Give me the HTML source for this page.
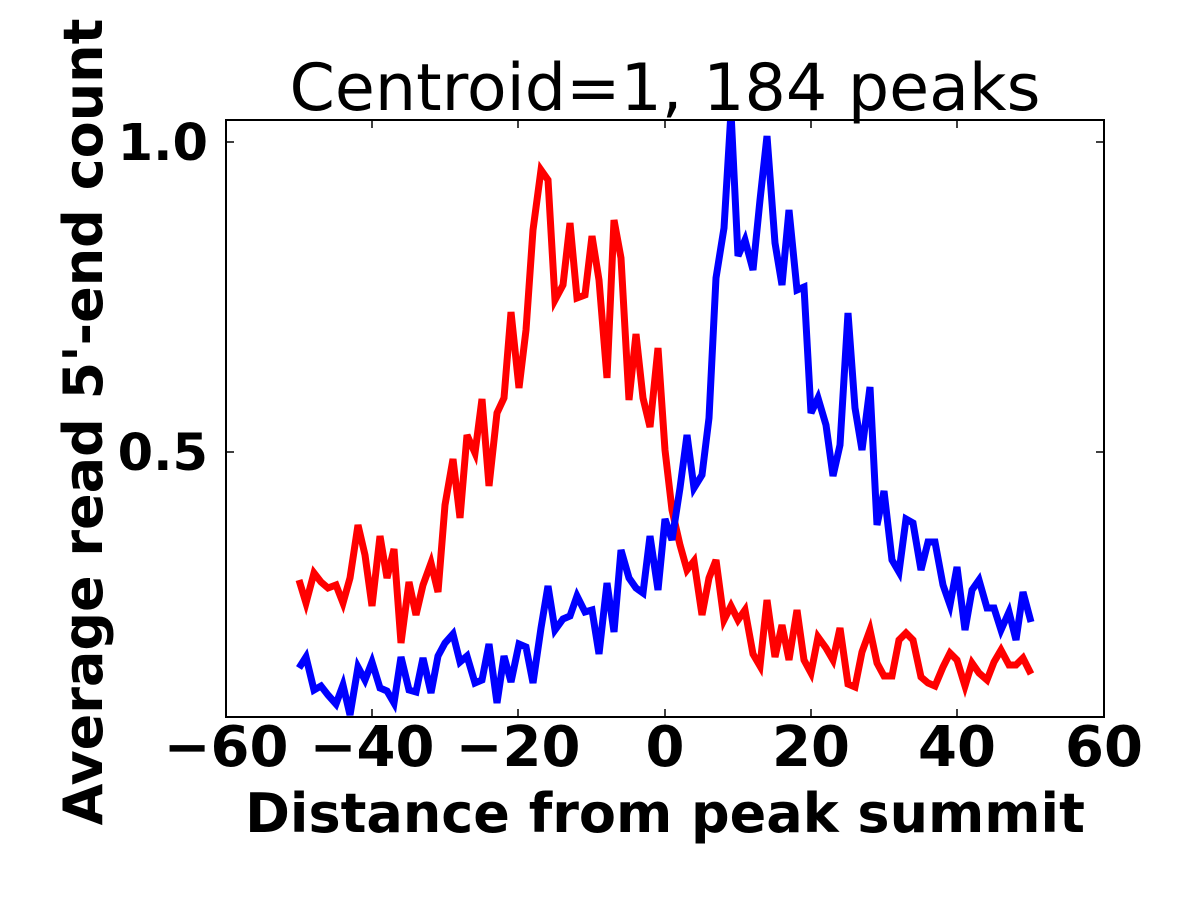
<!DOCTYPE html>
<html><head><meta charset="utf-8"><style>body{margin:0;background:#fff}svg{display:block}</style></head>
<body>
<svg width="1200" height="900" xmlns="http://www.w3.org/2000/svg">
<defs><clipPath id="c"><rect x="226" y="120" width="878" height="597"/></clipPath></defs>
<g clip-path="url(#c)" fill="none" stroke-width="7" stroke-linejoin="miter">
<polyline stroke="#ff0000" points="299,580 306,603 314,573 321,582 328,588 336,585 343,603 350,578 358,525 365,555 372,606 380,536 387,578 394,549 401,643 409,582 416,615 423,585 431,563 438,592 445,505 453,459 460,518 467,435 475,453 482,399 489,486 497,413 504,398 511,312 519,388 526,330 533,230 541,170 548,180 555,300 563,285 570,223 577,298 585,295 592,236 599,280 607,378 614,220 621,258 629,400 636,334 643,398 650,427 658,348 665,450 672,510 680,545 687,570 694,561 702,615 709,578 716,560 724,620 731,606 738,620 745,610 753,654 760,666 767,600 775,657 782,625 789,660 797,610 804,660 811,673 818,637 826,648 833,660 840,628 848,684 855,687 862,652 870,630 877,663 884,676 892,676 899,640 906,633 913,640 921,677 928,683 935,686 943,667 950,653 957,660 965,686 972,663 979,673 987,680 994,662 1001,650 1009,665 1016,665 1023,658 1031,674"/>
<polyline stroke="#0000ff" points="299,668 306,657 314,690 321,686 328,695 336,704 343,685 350,715 358,667 365,680 372,662 380,688 387,691 394,703 401,657 409,690 416,692 423,658 431,693 438,656 445,643 453,634 460,662 467,656 475,683 482,680 489,644 497,703 504,656 511,682 519,644 526,647 533,683 541,628 548,586 555,630 563,619 570,616 577,596 585,612 592,610 599,654 607,583 614,632 621,550 629,578 636,588 643,593 650,536 658,590 665,519 672,540 680,488 687,435 694,488 702,475 709,418 716,278 724,228 731,112 738,256 745,240 753,270 760,200 767,136 775,243 782,285 789,210 797,290 804,287 811,413 818,398 826,425 833,476 840,445 848,313 855,408 862,450 870,387 877,525 884,491 892,560 899,572 906,519 913,523 921,570 928,542 935,542 943,585 950,605 957,567 965,630 972,590 979,580 987,608 994,608 1001,630 1009,612 1016,640 1023,592 1031,622"/>
</g>
<rect x="226" y="120" width="878" height="597" fill="none" stroke="#000" stroke-width="2"/>
<g stroke="#000" stroke-width="1.5">
<line x1="226" y1="717" x2="226" y2="709"/><line x1="372" y1="717" x2="372" y2="709"/><line x1="518" y1="717" x2="518" y2="709"/><line x1="665" y1="717" x2="665" y2="709"/><line x1="811" y1="717" x2="811" y2="709"/><line x1="957" y1="717" x2="957" y2="709"/><line x1="1104" y1="717" x2="1104" y2="709"/>
<line x1="226" y1="120" x2="226" y2="128"/><line x1="372" y1="120" x2="372" y2="128"/><line x1="518" y1="120" x2="518" y2="128"/><line x1="665" y1="120" x2="665" y2="128"/><line x1="811" y1="120" x2="811" y2="128"/><line x1="957" y1="120" x2="957" y2="128"/><line x1="1104" y1="120" x2="1104" y2="128"/>
<line x1="226" y1="142" x2="234" y2="142"/><line x1="226" y1="452" x2="234" y2="452"/>
<line x1="1104" y1="142" x2="1096" y2="142"/><line x1="1104" y1="452" x2="1096" y2="452"/>
</g>
<g font-family="DejaVu Sans, sans-serif" font-weight="bold" font-size="56" fill="#000">
<g text-anchor="middle">
<text x="226" y="766">−60</text><text x="372" y="766">−40</text><text x="518" y="766">−20</text><text x="665" y="766">0</text><text x="811" y="766">20</text><text x="957" y="766">40</text><text x="1104" y="766">60</text>
</g>
</g>
<g font-family="DejaVu Sans, sans-serif" font-weight="bold" font-size="51" fill="#000" text-anchor="end">
<text x="208" y="160">1.0</text><text x="208" y="470">0.5</text>
</g>
<g font-family="DejaVu Sans, sans-serif" font-weight="bold" font-size="54" fill="#000" text-anchor="middle">
<text x="665" y="832">Distance from peak summit</text>
<text transform="translate(102,422) rotate(-90)">Average read 5'-end count</text>
</g>
<text x="665" y="110" text-anchor="middle" font-family="DejaVu Sans, sans-serif" font-size="65">Centroid=1, 184 peaks</text>
</svg>
</body></html>
